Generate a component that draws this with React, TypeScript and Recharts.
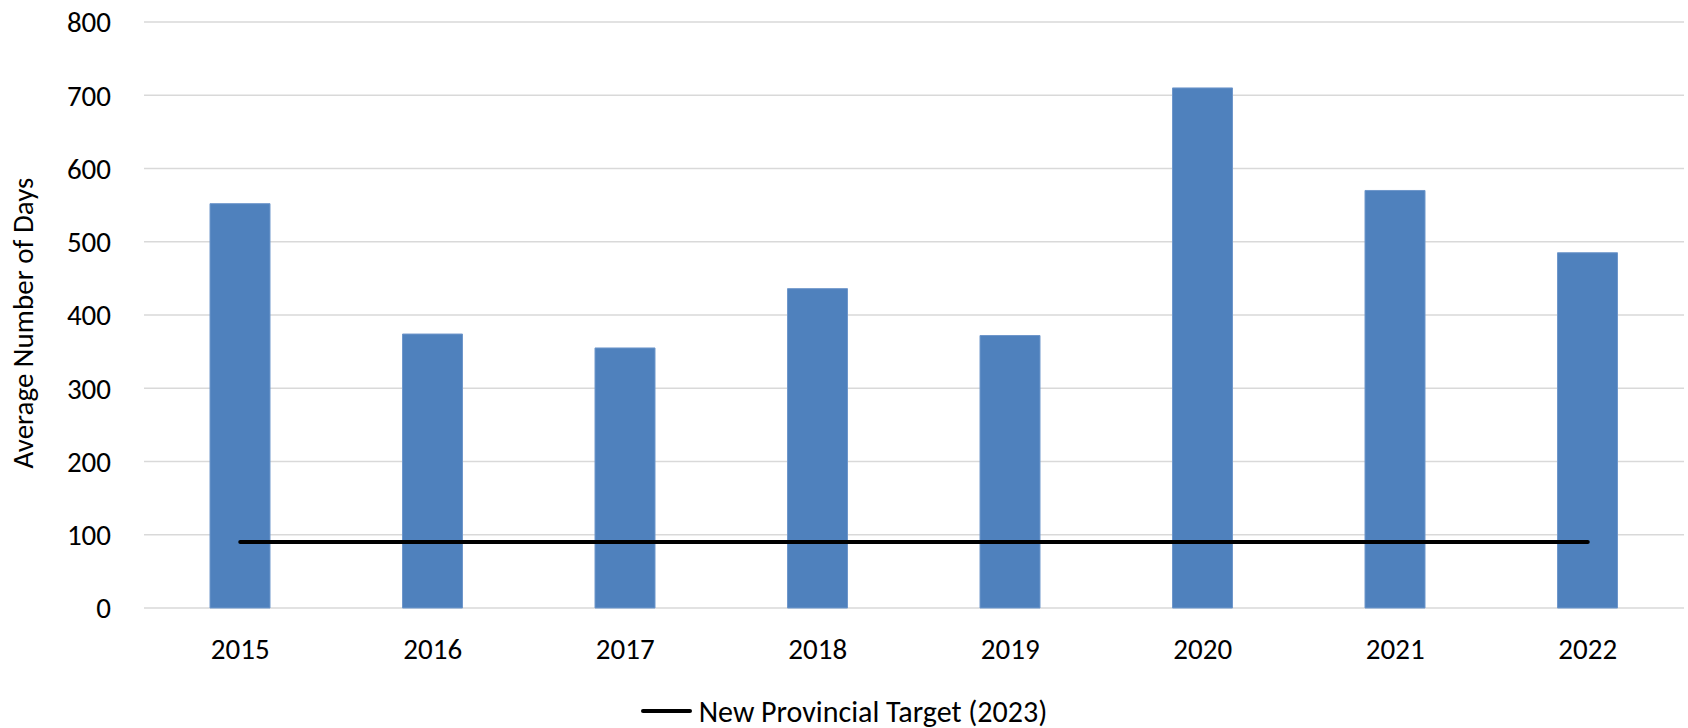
import React from 'react';
import { ComposedChart, Bar, Line, XAxis, YAxis, CartesianGrid, Legend } from 'recharts';

const years = ['2015', '2016', '2017', '2018', '2019', '2020', '2021', '2022'];
const avgDays = [552, 374, 355, 436, 372, 710, 570, 485];
const provincialTarget = [90, 90, 90, 90, 90, 90, 90, 90];
const yTicks = [0, 100, 200, 300, 400, 500, 600, 700, 800];

const data = years.map((year, i) => ({
    year,
    days: avgDays[i],
    target: provincialTarget[i],
}));

const FONT = "Carlito, Calibri, 'Open Sans', sans-serif";
const FONT_SIZE = 29;

const YTitle = ({ viewBox }: any) => {
    const cx = viewBox.x + 23;
    const cy = viewBox.y + viewBox.height / 2 + 8;
    return (
        <text
            x={cx}
            y={cy}
            transform={`rotate(-90 ${cx} ${cy})`}
            textAnchor="middle"
            dominantBaseline="central"
            fontFamily={FONT}
            fontSize={FONT_SIZE}
            fill="#000"
        >
            Average Number of Days
        </text>
    );
};

const TargetLegend = () => (
    <div
        style={{
            height: 60,
            boxSizing: 'border-box',
            paddingTop: 26,
            display: 'flex',
            alignItems: 'center',
            justifyContent: 'center',
            fontFamily: FONT,
            fontSize: 30,
            color: '#000',
        }}
    >
        <svg width={51} height={8} style={{ marginRight: 7 }}>
            <line x1={2} y1={4} x2={49} y2={4} stroke="#000" strokeWidth={4} strokeLinecap="round" />
        </svg>
        <span>New Provincial Target (2023)</span>
    </div>
);

export default function App() {
    return (
        <div style={{ position: 'absolute', left: 0, top: 0, width: 1688, height: 728, background: '#fff' }}>
            <ComposedChart width={1688} height={728} data={data} margin={{ top: 22, right: 4, bottom: 0, left: 0 }}>
                <CartesianGrid vertical={false} stroke="#d9d9d9" strokeWidth={1.5} />
                <XAxis
                    dataKey="year"
                    height={60}
                    axisLine={false}
                    tickLine={false}
                    tickSize={0}
                    tickMargin={30}
                    tick={{ fill: '#000', fontSize: FONT_SIZE, fontFamily: FONT }}
                />
                <YAxis
                    width={144}
                    domain={[0, 800]}
                    ticks={yTicks}
                    interval={0}
                    axisLine={false}
                    tickLine={false}
                    tickSize={0}
                    tickMargin={33}
                    tick={{ fill: '#000', fontSize: FONT_SIZE, fontFamily: FONT }}
                    label={<YTitle />}
                />
                <Legend
                    verticalAlign="bottom"
                    wrapperStyle={{ left: 0, width: 1688 }}
                    content={<TargetLegend />}
                />
                <Bar
                    dataKey="days"
                    name="Average Number of Days"
                    fill="#4f81bd"
                    stroke="#6f97cb"
                    strokeWidth={1}
                    barSize={60}
                    legendType="none"
                    isAnimationActive={false}
                />
                <Line
                    type="linear"
                    dataKey="target"
                    name="New Provincial Target (2023)"
                    stroke="#000"
                    strokeWidth={4}
                    strokeLinecap="round"
                    dot={false}
                    activeDot={false}
                    isAnimationActive={false}
                />
            </ComposedChart>
        </div>
    );
}
